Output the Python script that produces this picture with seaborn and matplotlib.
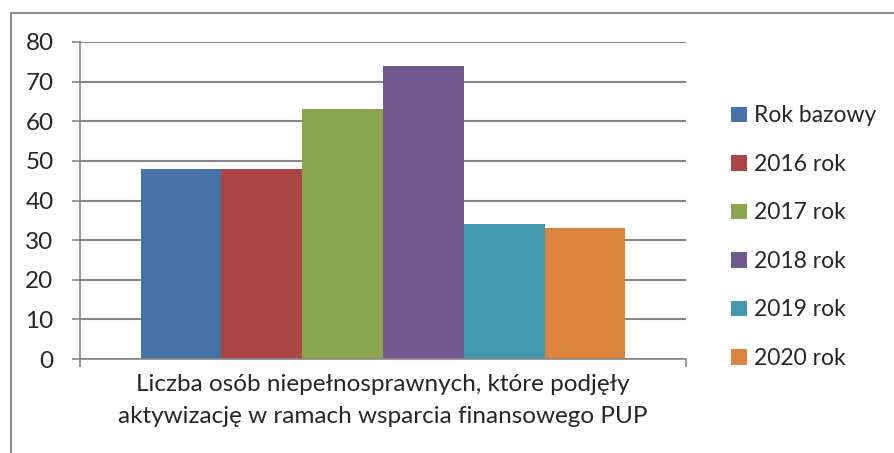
import matplotlib
matplotlib.use("Agg")
import matplotlib.pyplot as plt
from matplotlib.lines import Line2D
from matplotlib.patches import Patch
import seaborn as sns
import pandas as pd

categories = ["Liczba osób niepełnosprawnych, które podjęły\naktywizację w ramach wsparcia finansowego PUP"]
series = ["Rok bazowy", "2016 rok", "2017 rok", "2018 rok", "2019 rok", "2020 rok"]
values = [48, 48, 63, 74, 34, 33]
colors = ["#4572A7", "#AA4643", "#89A54E", "#71588F", "#4198AF", "#DB843D"]
yticks = [0, 10, 20, 30, 40, 50, 60, 70, 80]

df = pd.DataFrame({"kategoria": categories * len(series), "seria": series, "wartosc": values})

sns.set_style("white")
plt.rcParams["font.family"] = ["Lato", "DejaVu Sans"]

W, H = 895, 453
FS = 17.5
fig = plt.figure(figsize=(W / 100, H / 100), dpi=100)
ax = fig.add_axes([80 / W, 1 - 359 / H, (686 - 80) / W, (359 - 42) / H])

sns.barplot(data=df, x="kategoria", y="wartosc", hue="seria", palette=colors,
            hue_order=series, width=0.8, gap=0, saturation=1, ax=ax, legend=False)
for p in ax.patches:
    p.set_linewidth(0)

grid_c = "#868686"
ax.set_ylim(0, 80)
ax.set_xlim(-0.5, 0.5)
ax.set_yticks(yticks)
ax.set_yticklabels([str(v) for v in yticks], fontsize=FS)
ax.yaxis.grid(True, color=grid_c, linewidth=1.5)
ax.set_axisbelow(True)
ax.set_xlabel("")
ax.set_ylabel("")

for s in ["top", "right"]:
    ax.spines[s].set_visible(False)
for s in ["left", "bottom"]:
    ax.spines[s].set_color(grid_c)
    ax.spines[s].set_linewidth(1.2)

ax.tick_params(axis="y", length=6, width=1.2, color=grid_c, pad=13, left=True)
ax.set_xticks([0])
ax.set_xticklabels(categories, fontsize=FS, linespacing=1.65)
ax.tick_params(axis="x", length=0, pad=11)
ax.set_xticks([-0.5, 0.5], minor=True)
ax.tick_params(axis="x", which="minor", length=6, width=1.2, color=grid_c, bottom=True)

handles = [Patch(facecolor=c, edgecolor="none") for c in colors]
leg = fig.legend(handles, series, loc="upper left", bbox_to_anchor=(720 / W, 1 - 94 / H),
                 frameon=False, prop={"size": 16.5}, handlelength=0.68, handleheight=0.68,
                 handletextpad=0.3, labelspacing=1.2, borderpad=0)

# outer chart frame
fc = "#8c8c8c"
fig.add_artist(Line2D([11 / W, 1.0], [1 - 13 / H, 1 - 13 / H], color=fc, linewidth=1.5,
                      transform=fig.transFigure))
fig.add_artist(Line2D([11 / W, 11 / W], [1 - 13 / H, 0.0], color=fc, linewidth=1.5,
                      transform=fig.transFigure))

fig.savefig("out.png", dpi=100, facecolor="white")
